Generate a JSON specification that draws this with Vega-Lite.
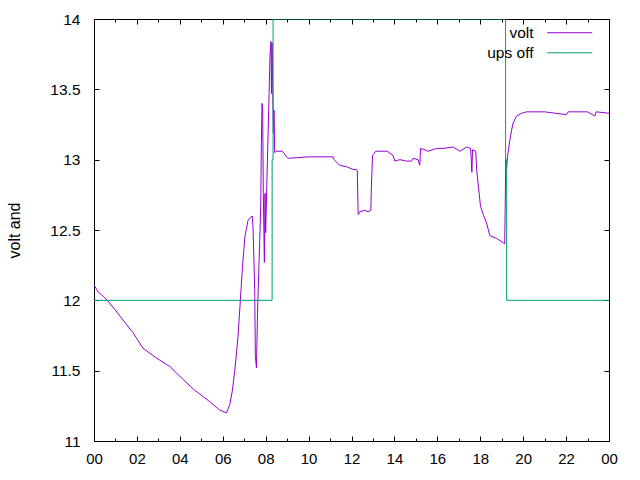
{
  "$schema": "https://vega.github.io/schema/vega-lite/v6.json",
  "width": 515,
  "height": 422,
  "autosize": {"type": "none"},
  "padding": {"left": 94, "top": 19, "right": 31, "bottom": 39},
  "background": "white",
  "config": {
    "font": "Liberation Sans",
    "view": {"stroke": "black", "strokeWidth": 1},
    "axis": {"grid": false, "domain": false, "tickColor": "black", "tickWidth": 1, "labelColor": "black", "labelFont": "Liberation Sans", "titleFont": "Liberation Sans", "titleFontWeight": "normal", "titleFontSize": 16, "titleColor": "black"}
  },
  "data": {"values": [
    {"h": 0.0, "v": 12.11, "s": "volt"},
    {"h": 0.19, "v": 12.06, "s": "volt"},
    {"h": 0.35, "v": 12.04, "s": "volt"},
    {"h": 0.62, "v": 12.0, "s": "volt"},
    {"h": 1.0, "v": 11.93, "s": "volt"},
    {"h": 1.35, "v": 11.86, "s": "volt"},
    {"h": 1.82, "v": 11.77, "s": "volt"},
    {"h": 2.28, "v": 11.66, "s": "volt"},
    {"h": 2.91, "v": 11.59, "s": "volt"},
    {"h": 3.53, "v": 11.53, "s": "volt"},
    {"h": 4.0, "v": 11.46, "s": "volt"},
    {"h": 4.62, "v": 11.37, "s": "volt"},
    {"h": 5.39, "v": 11.28, "s": "volt"},
    {"h": 5.86, "v": 11.22, "s": "volt"},
    {"h": 6.17, "v": 11.2, "s": "volt"},
    {"h": 6.33, "v": 11.26, "s": "volt"},
    {"h": 6.45, "v": 11.36, "s": "volt"},
    {"h": 6.56, "v": 11.5, "s": "volt"},
    {"h": 6.71, "v": 11.74, "s": "volt"},
    {"h": 6.82, "v": 12.0, "s": "volt"},
    {"h": 6.92, "v": 12.24, "s": "volt"},
    {"h": 7.03, "v": 12.45, "s": "volt"},
    {"h": 7.18, "v": 12.57, "s": "volt"},
    {"h": 7.37, "v": 12.6, "s": "volt"},
    {"h": 7.41, "v": 12.52, "s": "volt"},
    {"h": 7.49, "v": 12.07, "s": "volt"},
    {"h": 7.52, "v": 11.6, "s": "volt"},
    {"h": 7.57, "v": 11.52, "s": "volt"},
    {"h": 7.62, "v": 11.91, "s": "volt"},
    {"h": 7.72, "v": 12.41, "s": "volt"},
    {"h": 7.77, "v": 12.67, "s": "volt"},
    {"h": 7.8, "v": 13.12, "s": "volt"},
    {"h": 7.83, "v": 13.4, "s": "volt"},
    {"h": 7.86, "v": 13.35, "s": "volt"},
    {"h": 7.89, "v": 12.76, "s": "volt"},
    {"h": 7.94, "v": 12.27, "s": "volt"},
    {"h": 7.97, "v": 12.76, "s": "volt"},
    {"h": 8.0, "v": 12.48, "s": "volt"},
    {"h": 8.05, "v": 12.8, "s": "volt"},
    {"h": 8.16, "v": 13.47, "s": "volt"},
    {"h": 8.2, "v": 13.73, "s": "volt"},
    {"h": 8.25, "v": 13.84, "s": "volt"},
    {"h": 8.27, "v": 13.47, "s": "volt"},
    {"h": 8.3, "v": 13.83, "s": "volt"},
    {"h": 8.36, "v": 13.19, "s": "volt"},
    {"h": 8.39, "v": 13.35, "s": "volt"},
    {"h": 8.42, "v": 13.05, "s": "volt"},
    {"h": 8.5, "v": 13.06, "s": "volt"},
    {"h": 8.78, "v": 13.06, "s": "volt"},
    {"h": 8.97, "v": 13.02, "s": "volt"},
    {"h": 9.05, "v": 13.01, "s": "volt"},
    {"h": 10.0, "v": 13.02, "s": "volt"},
    {"h": 11.14, "v": 13.02, "s": "volt"},
    {"h": 11.19, "v": 13.0, "s": "volt"},
    {"h": 11.45, "v": 12.96, "s": "volt"},
    {"h": 11.77, "v": 12.95, "s": "volt"},
    {"h": 12.08, "v": 12.93, "s": "volt"},
    {"h": 12.23, "v": 12.93, "s": "volt"},
    {"h": 12.27, "v": 12.92, "s": "volt"},
    {"h": 12.31, "v": 12.61, "s": "volt"},
    {"h": 12.39, "v": 12.63, "s": "volt"},
    {"h": 12.62, "v": 12.64, "s": "volt"},
    {"h": 12.77, "v": 12.63, "s": "volt"},
    {"h": 12.9, "v": 12.64, "s": "volt"},
    {"h": 12.93, "v": 12.82, "s": "volt"},
    {"h": 12.98, "v": 13.03, "s": "volt"},
    {"h": 13.13, "v": 13.06, "s": "volt"},
    {"h": 13.66, "v": 13.06, "s": "volt"},
    {"h": 13.94, "v": 13.03, "s": "volt"},
    {"h": 14.02, "v": 12.99, "s": "volt"},
    {"h": 14.25, "v": 13.0, "s": "volt"},
    {"h": 14.56, "v": 12.99, "s": "volt"},
    {"h": 14.8, "v": 12.99, "s": "volt"},
    {"h": 14.87, "v": 13.01, "s": "volt"},
    {"h": 15.1, "v": 13.0, "s": "volt"},
    {"h": 15.18, "v": 12.96, "s": "volt"},
    {"h": 15.22, "v": 13.08, "s": "volt"},
    {"h": 15.42, "v": 13.07, "s": "volt"},
    {"h": 15.57, "v": 13.06, "s": "volt"},
    {"h": 15.96, "v": 13.08, "s": "volt"},
    {"h": 16.27, "v": 13.08, "s": "volt"},
    {"h": 16.74, "v": 13.09, "s": "volt"},
    {"h": 17.05, "v": 13.06, "s": "volt"},
    {"h": 17.36, "v": 13.09, "s": "volt"},
    {"h": 17.55, "v": 13.08, "s": "volt"},
    {"h": 17.61, "v": 12.91, "s": "volt"},
    {"h": 17.64, "v": 13.07, "s": "volt"},
    {"h": 17.79, "v": 13.06, "s": "volt"},
    {"h": 17.83, "v": 12.93, "s": "volt"},
    {"h": 17.95, "v": 12.76, "s": "volt"},
    {"h": 18.01, "v": 12.67, "s": "volt"},
    {"h": 18.14, "v": 12.61, "s": "volt"},
    {"h": 18.29, "v": 12.55, "s": "volt"},
    {"h": 18.45, "v": 12.46, "s": "volt"},
    {"h": 18.76, "v": 12.44, "s": "volt"},
    {"h": 19.07, "v": 12.41, "s": "volt"},
    {"h": 19.14, "v": 12.4, "s": "volt"},
    {"h": 19.16, "v": 12.64, "s": "volt"},
    {"h": 19.19, "v": 13.0, "s": "volt"},
    {"h": 19.22, "v": 12.93, "s": "volt"},
    {"h": 19.27, "v": 13.02, "s": "volt"},
    {"h": 19.38, "v": 13.14, "s": "volt"},
    {"h": 19.46, "v": 13.21, "s": "volt"},
    {"h": 19.53, "v": 13.26, "s": "volt"},
    {"h": 19.69, "v": 13.31, "s": "volt"},
    {"h": 19.93, "v": 13.33, "s": "volt"},
    {"h": 20.16, "v": 13.34, "s": "volt"},
    {"h": 21.0, "v": 13.34, "s": "volt"},
    {"h": 21.5, "v": 13.33, "s": "volt"},
    {"h": 22.02, "v": 13.32, "s": "volt"},
    {"h": 22.1, "v": 13.34, "s": "volt"},
    {"h": 23.0, "v": 13.34, "s": "volt"},
    {"h": 23.34, "v": 13.31, "s": "volt"},
    {"h": 23.4, "v": 13.34, "s": "volt"},
    {"h": 24.0, "v": 13.33, "s": "volt"},
    {"h": 0.0, "v": 12.0, "s": "ups off"},
    {"h": 8.3, "v": 12.0, "s": "ups off"},
    {"h": 8.301, "v": 13.0, "s": "ups off"},
    {"h": 8.345, "v": 13.0, "s": "ups off"},
    {"h": 8.346, "v": 14.0, "s": "ups off"},
    {"h": 19.18, "v": 14.0, "s": "ups off"},
    {"h": 19.181, "v": 13.0, "s": "ups off"},
    {"h": 19.23, "v": 13.0, "s": "ups off"},
    {"h": 19.231, "v": 12.0, "s": "ups off"},
    {"h": 24.0, "v": 12.0, "s": "ups off"}
  ]},
  "resolve": {"axis": {"x": "independent", "y": "independent"}},
  "layer": [
    {
      "mark": {"type": "line", "strokeWidth": 1, "clip": true},
      "encoding": {
        "x": {"field": "h", "type": "quantitative", "scale": {"domain": [0, 24], "nice": false, "zero": false},
          "axis": {"orient": "bottom", "title": null, "values": [0, 2, 4, 6, 8, 10, 12, 14, 16, 18, 20, 22, 24], "labelExpr": "format(datum.value % 24, '02d')", "offset": -5, "tickSize": 5, "labelPadding": 10.5, "labelFontSize": 15, "labelFlush": false, "labelOverlap": false}},
        "y": {"field": "v", "type": "quantitative", "scale": {"domain": [11, 14], "nice": false, "zero": false},
          "axis": {"orient": "left", "title": "volt and", "values": [11, 11.5, 12, 12.5, 13, 13.5, 14], "format": "~g", "offset": -5, "tickSize": 5, "labelPadding": 14, "labelFontSize": 15.5, "titlePadding": 27.5}},
        "color": {"field": "s", "type": "nominal", "scale": {"domain": ["volt", "ups off"], "range": ["#9400d3", "#009e73"]},
          "legend": {"orient": "none", "legendX": 468, "legendY": 6, "title": null, "symbolType": "M-6,0H6", "symbolSize": 56.25, "symbolStrokeWidth": 1, "labelAlign": "right", "labelOffset": -44, "labelFontSize": 15.5, "labelFont": "Liberation Sans", "labelColor": "black", "rowPadding": 3, "padding": 0}}
      }
    },
    {
      "mark": {"type": "line", "opacity": 0},
      "encoding": {
        "x": {"field": "h", "type": "quantitative", "axis": {"orient": "top", "title": null, "values": [0, 2, 4, 6, 8, 10, 12, 14, 16, 18, 20, 22, 24], "labels": false, "offset": -5, "tickSize": 5}},
        "y": {"field": "v", "type": "quantitative", "axis": {"orient": "right", "title": null, "values": [11, 11.5, 12, 12.5, 13, 13.5, 14], "labels": false, "offset": -5, "tickSize": 5}}
      }
    },
    {
      "mark": {"type": "line", "opacity": 0},
      "encoding": {
        "x": {"field": "h", "type": "quantitative", "axis": {"orient": "bottom", "title": null, "values": [1, 3, 5, 7, 9, 11, 13, 15, 17, 19, 21, 23], "labels": false, "offset": -3, "tickSize": 3}},
        "y": {"field": "v", "type": "quantitative", "axis": null}
      }
    },
    {
      "mark": {"type": "line", "opacity": 0},
      "encoding": {
        "x": {"field": "h", "type": "quantitative", "axis": {"orient": "top", "title": null, "values": [1, 3, 5, 7, 9, 11, 13, 15, 17, 19, 21, 23], "labels": false, "offset": -3, "tickSize": 3}},
        "y": {"field": "v", "type": "quantitative", "axis": null}
      }
    }
  ]
}
